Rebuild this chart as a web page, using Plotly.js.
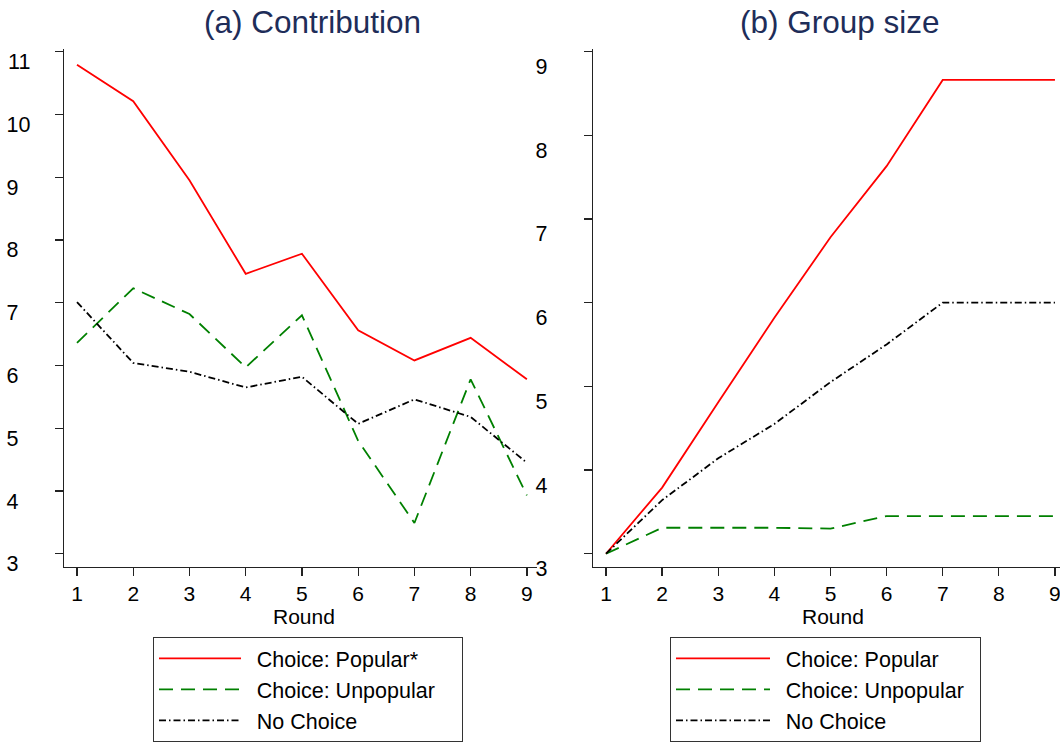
<!DOCTYPE html>
<html>
<head>
<meta charset="utf-8">
<script src="https://cdn.plot.ly/plotly-3.0.1.min.js"></script>
<style>html,body{margin:0;padding:0;background:#fff;}#chart{width:1060px;height:742px;}</style>
</head>
<body>
<div id="chart"></div>
<script>
// Data
const rounds = [1, 2, 3, 4, 5, 6, 7, 8, 9];

// (a) Contribution
const contribPopular   = [10.79, 10.21, 8.95, 7.46, 7.78, 6.56, 6.08, 6.44, 5.78];
const contribUnpopular = [6.36, 7.23, 6.82, 5.97, 6.80, 4.80, 3.49, 5.78, 3.93];
const contribNoChoice  = [7.01, 6.04, 5.90, 5.65, 5.82, 5.07, 5.46, 5.18, 4.45];

// (b) Group size
const sizePopular   = [3.00, 3.79, 4.81, 5.82, 6.78, 7.63, 8.66, 8.66, 8.66];
const sizeUnpopular = [3.00, 3.31, 3.31, 3.31, 3.30, 3.45, 3.45, 3.45, 3.45];
const sizeNoChoice  = [3.00, 3.64, 4.14, 4.55, 5.05, 5.50, 6.00, 6.00, 6.00];

const leftTickVals  = [3, 4, 5, 6, 7, 8, 9, 10, 11];
const leftTickText  = ["3\u2007", "4\u2007", "5\u2007", "6\u2007", "7\u2007", "8\u2007", "9\u2007", "10", "11"];
const rightTickVals = [3, 4, 5, 6, 7, 8, 9];
const rightTickText = ["3", "4", "5", "6", "7", "8", "9"];

const namesLeft  = ["Choice: Popular*", "Choice: Unpopular", "No Choice"];
const namesRight = ["Choice: Popular", "Choice: Unpopular", "No Choice"];
const xTitle = "Round";
const titleA = "(a) Contribution";
const titleB = "(b) Group size";

const RED = "#ff0000", GREEN = "#008000", BLACK = "#000000";
const DASH_G = "14px,8px";
const DASH_K = "7px,3px,1.5px,3px";
const LW = 1.8;

// padding characters (en space / em space) used only to space the legend text like the original
const padL = s => "\u2002" + s + "\u2003";
const padR = s => "\u2002" + s + "\u2002";

const traces = [
  {x: rounds, y: contribPopular, name: padL(namesLeft[0]), mode: "lines", line: {color: RED, width: LW}, xaxis: "x", yaxis: "y", legend: "legend"},
  {x: rounds, y: contribUnpopular, name: padL(namesLeft[1]), mode: "lines", line: {color: GREEN, width: LW, dash: DASH_G}, xaxis: "x", yaxis: "y", legend: "legend"},
  {x: rounds, y: contribNoChoice, name: padL(namesLeft[2]), mode: "lines", line: {color: BLACK, width: LW, dash: DASH_K}, xaxis: "x", yaxis: "y", legend: "legend"},
  {x: rounds, y: sizePopular, name: padR(namesRight[0]), mode: "lines", line: {color: RED, width: LW}, xaxis: "x2", yaxis: "y2", legend: "legend2"},
  {x: rounds, y: sizeUnpopular, name: padR(namesRight[1]), mode: "lines", line: {color: GREEN, width: LW, dash: DASH_G}, xaxis: "x2", yaxis: "y2", legend: "legend2"},
  {x: rounds, y: sizeNoChoice, name: padR(namesRight[2]), mode: "lines", line: {color: BLACK, width: LW, dash: DASH_K}, xaxis: "x2", yaxis: "y2", legend: "legend2"}
];

const FONT = "Liberation Sans, Arial, sans-serif";
const W = 1060, H = 742;
const yDom = [(H - 572) / H, (H - 49) / H];

function xAxis(dom, range, anchor) {
  return {
    domain: dom, range: range, anchor: anchor,
    tickvals: rounds, ticktext: rounds.map(String),
    showgrid: false, zeroline: false, showline: true, linecolor: "#222", linewidth: 1.3,
    ticks: "outside", ticklen: 8, tickwidth: 1.3, tickcolor: "#222",
    tickfont: {family: FONT, size: 21, color: "#000"},
    ticklabelstandoff: 0, ticklabeloverflow: "allow",
    fixedrange: true
  };
}
function yAxis(range, anchor, vals, text, standoff, shift) {
  return {
    domain: yDom, range: range, anchor: anchor,
    tickvals: vals, ticktext: text,
    showgrid: false, zeroline: false, showline: true, linecolor: "#222", linewidth: 1.3,
    ticks: "outside", ticklen: 8, tickwidth: 1.3, tickcolor: "#222",
    tickfont: {family: FONT, size: 21.5, color: "#000"},
    ticklabelstandoff: standoff, ticklabelshift: shift, ticklabeloverflow: "allow",
    fixedrange: true
  };
}

const legendBase = {
  font: {family: FONT, size: 21.5, color: "#000"},
  bordercolor: "#333", borderwidth: 1, bgcolor: "#fff",
  xanchor: "left", yanchor: "top",
  tracegroupgap: 0
};

const titleFont = {family: FONT, size: 31.5, color: "#1e2d59"};
const axTitleFont = {family: FONT, size: 21, color: "#000"};

const layout = {
  width: W, height: H,
  margin: {l: 0, r: 0, t: 0, b: 0},
  paper_bgcolor: "#fff", plot_bgcolor: "#fff",
  showlegend: true,
  xaxis: xAxis([64 / W, 537 / W], [0.769, 9.18], "y"),
  yaxis: yAxis([2.795, 11.05], "x", leftTickVals, leftTickText, 20, 10),
  xaxis2: xAxis([593 / W, 1], [0.768, 9.09], "y2"),
  yaxis2: yAxis([2.846, 9.035], "x2", rightTickVals, rightTickText, 32, 15),
  legend: Object.assign({}, legendBase, {x: 153 / W, y: (H - 643) / H, itemwidth: 82}),
  legend2: Object.assign({}, legendBase, {x: 670 / W, y: (H - 643) / H, itemwidth: 94}),
  annotations: [
    {text: titleA, xref: "paper", yref: "paper", x: 312 / W, y: (H - 22) / H, xanchor: "center", yanchor: "middle", showarrow: false, font: titleFont},
    {text: titleB, xref: "paper", yref: "paper", x: 840 / W, y: (H - 22) / H, xanchor: "center", yanchor: "middle", showarrow: false, font: titleFont},
    {text: xTitle, xref: "paper", yref: "paper", x: 304 / W, y: (H - 622) / H, xanchor: "center", yanchor: "middle", showarrow: false, font: axTitleFont},
    {text: xTitle, xref: "paper", yref: "paper", x: 833 / W, y: (H - 622) / H, xanchor: "center", yanchor: "middle", showarrow: false, font: axTitleFont}
  ]
};

Plotly.newPlot("chart", traces, layout, {displayModeBar: false, staticPlot: true});
</script>
</body>
</html>
